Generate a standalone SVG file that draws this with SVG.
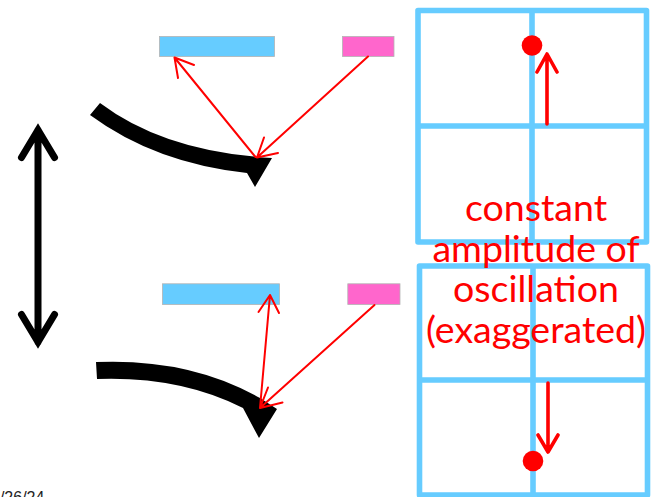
<svg xmlns="http://www.w3.org/2000/svg" width="663" height="497" viewBox="0 0 663 497">
<style>
.bar{stroke:#b4b4b4;stroke-width:.8}
.blue{fill:#66ccff}
.pink{fill:#ff66cc}
.grid{fill:none;stroke:#66ccff;stroke-width:5.6;stroke-linejoin:round}
.ray{fill:none;stroke:#ff0000;stroke-width:2;stroke-linecap:round;stroke-linejoin:round}
.move{fill:none;stroke:#ff0000;stroke-width:3.6;stroke-linecap:round;stroke-linejoin:round}
.big{fill:none;stroke:#000;stroke-width:7;stroke-linecap:round;stroke-linejoin:miter}
.label{font-family:Lato,"Liberation Sans",sans-serif;font-size:37.500px;fill:#ff0000;text-anchor:middle}
.date{font-family:"Liberation Sans",Arial,sans-serif;font-size:16px;fill:#222}
</style>
<rect width="663" height="497" fill="#fff"/>
<g id="grid-top"><rect class="grid" x="418" y="10.500" width="228.500" height="231.500"/><path class="grid" d="M532 10.500V242M418 126H646.500"/></g>
<g id="grid-bottom"><rect class="grid" x="419.500" y="266" width="228" height="229"/><path class="grid" d="M533 266V495M419.500 380H647.500"/></g>
<g id="mirror-top-blue"><rect class="bar blue" x="159.500" y="36.500" width="115" height="20"/></g>
<g id="mirror-top-pink"><rect class="bar pink" x="342.500" y="36.500" width="51.500" height="20"/></g>
<g id="mirror-bottom-blue"><rect class="bar blue" x="162.500" y="283.800" width="117" height="20.700"/></g>
<g id="mirror-bottom-pink"><rect class="bar pink" x="347.800" y="283.800" width="52.200" height="20.700"/></g>
<g id="cantilever-top"><path d="M100 103Q165 152 272 158L255 187L247 173Q155 163 90 115Z" fill="#000"/></g>
<g id="cantilever-bottom"><path d="M96 362Q190 358 260 398L277 409L259 438L243 408Q180 376 97 379Z" fill="#000"/></g>
<g id="dot-top"><circle cx="532" cy="45.500" r="10.300" fill="#ff0000"/></g>
<g id="dot-bottom"><circle cx="533" cy="461" r="10.300" fill="#ff0000"/></g>
<g id="connectors">
<path class="big" d="M38 130V342M21.500 157.500L38 130L54.500 157.500M21.500 314.500L38 342L54.500 314.500"/>
<path class="ray" d="M368 56.500L257 157.500M264 137.500L257 157.500L278 153M255.500 157L174.500 57.500M194 65L174.500 57.500L178 78"/>
<path class="ray" d="M374.500 305L260 408M268 387.500L260 408L282.500 402.500M260 408L270 295M258.500 312L270 295L279 313"/>
<path class="move" d="M547 124V54M537 72L547 54L557 72M548 383V452M538 435L548 452L558 435"/>
</g>
<g id="labels">
<text class="label" x="536" y="221">constant</text>
<text class="label" x="536" y="261.500">amplitude of</text>
<text class="label" x="536" y="302">oscillation</text>
<text class="label" x="536" y="343">(exaggerated)</text>
<text class="date" x="-9" y="503">3/26/24</text>
</g>
</svg>
